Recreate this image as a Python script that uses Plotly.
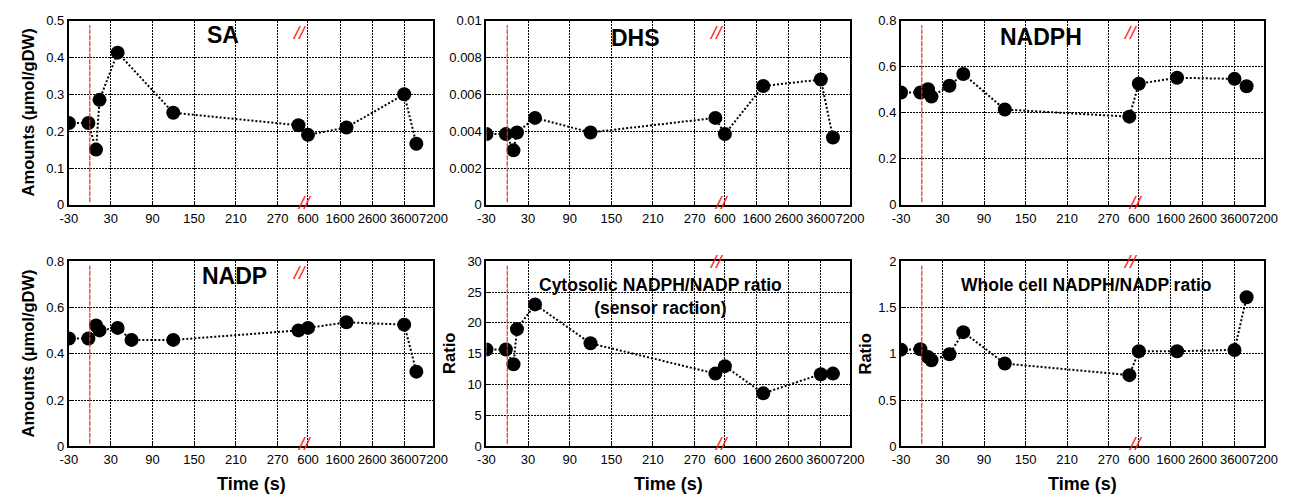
import numpy as np
import plotly.graph_objects as go

# ---------------- data ----------------
TIME = [-30, -2, 9, 14, 40, 60, 120, 300, 600, 1800, 3600, 5100]

SA = [0.222, 0.222, 0.150, 0.285, 0.413, None, 0.250, 0.216, 0.190, 0.210, 0.300, 0.166]
DHS = [0.00384, 0.00384, 0.00296, 0.00393, 0.00472, None, 0.00393, 0.00472, 0.00384, 0.00645, 0.00680, 0.00366]
NADPH = [0.488, 0.488, 0.502, 0.470, 0.517, 0.568, 0.414, 0.383, 0.526, 0.552, 0.547, 0.515]
NADP = [0.466, 0.466, 0.522, 0.501, 0.512, 0.460, 0.460, 0.501, 0.512, 0.536, 0.526, 0.323]
CYTO_RATIO = [15.7, 15.7, 13.3, 19.0, 23.0, None, 16.7, 11.8, 13.0, 8.6, 11.7, 11.8]
WHOLE_RATIO = [1.045, 1.049, 0.965, 0.930, 0.995, 1.234, 0.895, 0.770, 1.028, 1.028, 1.042, 1.610]

X_TICK_LABELS = ["-30", "30", "90", "150", "210", "270", "600", "1600", "2600", "3600", "7200"]
X_TICK_TIMES = [-30, 30, 90, 150, 210, 270, 600, 1600, 2600, 3600, 7200]

# broken time axis: linear -30..300, then compressed 600..3600, 3600..7200
BREAK_T = [-30, 300, 600, 3600, 7200]
BREAK_U = [-30, 300, 313.7, 452, 494]


def tmap(t):
    return float(np.interp(t, BREAK_T, BREAK_U))


PANELS = [
    dict(name="SA", y=SA, ymax=0.5, dtick=0.1, ytitle="Amounts (µmol/gDW)", xtitle=None),
    dict(name="DHS", y=DHS, ymax=0.01, dtick=0.002, ytitle=None, xtitle=None),
    dict(name="NADPH", y=NADPH, ymax=0.8, dtick=0.2, ytitle=None, xtitle=None),
    dict(name="NADP", y=NADP, ymax=0.8, dtick=0.2, ytitle="Amounts (µmol/gDW)", xtitle="Time (s)"),
    dict(name="Cytosolic NADPH/NADP ratio<br>(sensor raction)", y=CYTO_RATIO, ymax=30, dtick=5,
         ytitle="Ratio", xtitle="Time (s)"),
    dict(name="Whole cell NADPH/NADP ratio", y=WHOLE_RATIO, ymax=2, dtick=0.5, ytitle="Ratio", xtitle="Time (s)"),
]

# ---------------- layout geometry (pixels) ----------------
W, H = 1308, 502
COLS = [(61, 432), (486, 856), (908, 1277)]
ROWS = [(14, 204), (262, 453)]
TITLE_POS = [(218, 29, 23), (638, 32, 23), (1050, 31, 23), (230, 277, 23), (663, 298, 17.5), (1097, 287, 17.5)]
TOP_BREAK_Y = [0.935, 0.935, 0.935, 0.94, 1.0, 1.0]
YTITLE_X = [19, None, None, 19, 448, 871]
XTITLE_Y = 492

FONT = "Arial, Liberation Sans, sans-serif"

fig = go.Figure()
layout = dict(
    width=W, height=H, margin=dict(l=0, r=0, t=0, b=0),
    paper_bgcolor="white", plot_bgcolor="white", showlegend=False,
    font=dict(family=FONT, color="black", size=13),
    annotations=[], shapes=[],
)

xu = [tmap(t) for t in TIME]
tick_u = [tmap(t) for t in X_TICK_TIMES]

for i, p in enumerate(PANELS):
    r, c = divmod(i, 3)
    k = "" if i == 0 else str(i + 1)
    xa, ya = "x" + k, "y" + k
    x0, x1 = COLS[c]
    y0, y1 = ROWS[r]
    fig.add_trace(go.Scatter(
        x=xu, y=p["y"], xaxis=xa, yaxis=ya, mode="lines+markers", connectgaps=True,
        line=dict(color="black", width=2, dash="2px,2px"),
        marker=dict(color="black", size=14),
        hoverinfo="skip",
    ))
    axis_common = dict(
        showline=True, linecolor="black", linewidth=2, mirror=True,
        showgrid=True, gridcolor="#000000", gridwidth=1, griddash="2px,1px",
        ticks="inside", ticklen=3, tickcolor="black", zeroline=False,
        tickfont=dict(family=FONT, size=13, color="black"),
    )
    layout["xaxis" + k] = dict(
        axis_common, domain=[x0 / W, x1 / W], anchor=ya,
        range=[BREAK_U[0], BREAK_U[-1]], tickmode="array",
        tickvals=tick_u, ticktext=X_TICK_LABELS, tickangle=0,
    )
    layout["yaxis" + k] = dict(
        axis_common, domain=[1 - y1 / H, 1 - y0 / H], anchor=xa,
        range=[0, p["ymax"]], dtick=p["dtick"], tick0=0,
    )
    if p["ytitle"]:
        layout["annotations"].append(dict(
            text=f"<b>{p['ytitle']}</b>", x=YTITLE_X[i] / W, y=1 - (y0 + y1) / 2 / H,
            xref="paper", yref="paper", textangle=-90, showarrow=False,
            font=dict(size=16.5, color="black", family=FONT), xanchor="center", yanchor="middle",
        ))
    if p["xtitle"]:
        layout["annotations"].append(dict(
            text=f"<b>{p['xtitle']}</b>", x=(x0 + x1) / 2 / W, y=1 - XTITLE_Y / H,
            xref="paper", yref="paper", showarrow=False,
            font=dict(size=18, color="black", family=FONT), xanchor="center", yanchor="middle",
        ))
    tx, ty, ts = TITLE_POS[i]
    layout["annotations"].append(dict(
        text=f"<b>{p['name']}</b>", x=tx / W, y=1 - ty / H, xref="paper", yref="paper",
        showarrow=False, font=dict(size=ts, color="black", family=FONT),
        xanchor="center", yanchor="middle",
    ))
    # break marks
    for bx, by in [(0.632, TOP_BREAK_Y[i]), (0.645, 0.015)]:
        layout["annotations"].append(dict(
            text="<i>//</i>", x=bx, y=by, xref=xa + " domain", yref=ya + " domain",
            showarrow=False, font=dict(size=19, color="#ff1a1a", family=FONT),
            xanchor="center", yanchor="middle",
        ))
    # stimulus time marker (t = 0)
    layout["shapes"].append(dict(
        type="line", xref=xa, yref=ya + " domain", x0=tmap(0), x1=tmap(0), y0=0.015, y1=0.975,
        line=dict(color="#f02a10", width=1.2, dash="5px,1px"),
    ))

fig.update_layout(**layout)
fig.write_html(
    "out.html",
    config={"displayModeBar": False},
    post_script="document.body.style.margin='0px';document.body.style.overflow='hidden';",
)
